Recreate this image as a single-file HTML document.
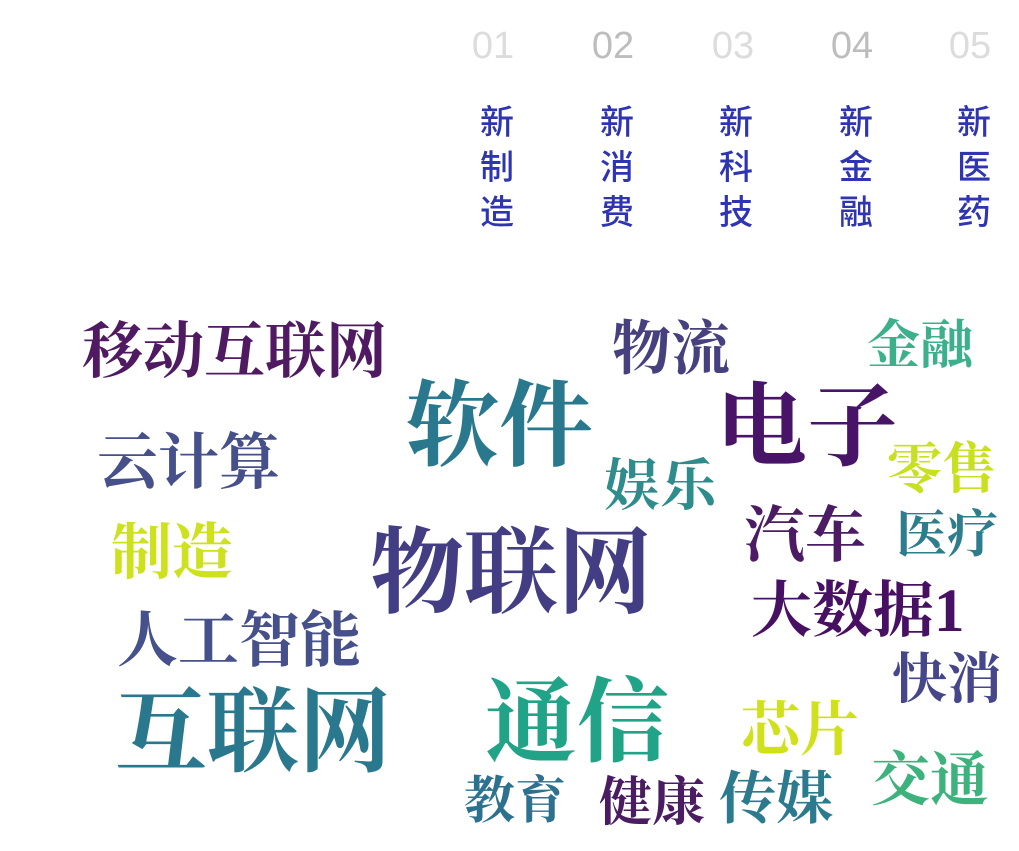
<!DOCTYPE html>
<html><head><meta charset="utf-8"><style>
html,body{margin:0;padding:0;background:#fff;}
body{width:1019px;height:851px;position:relative;overflow:hidden;}
.n{position:absolute;top:24px;font:300 38px "Liberation Sans",sans-serif;line-height:44px;width:60px;text-align:center;}
.v{position:absolute;top:101px;font:500 34px "Liberation Sans","Noto Sans CJK SC",sans-serif;color:#2f35b0;line-height:45px;width:40px;text-align:center;}
.w{position:absolute;font-family:"Liberation Serif","Noto Serif CJK SC",serif;font-weight:bold;line-height:1;white-space:nowrap;}
</style></head><body>
<div class="n" style="left:463px;color:#dcdcdc">01</div>
<div class="n" style="left:583px;color:#bdbdbd">02</div>
<div class="n" style="left:703px;color:#dcdcdc">03</div>
<div class="n" style="left:822px;color:#bdbdbd">04</div>
<div class="n" style="left:940px;color:#dcdcdc">05</div>
<div class="v" style="left:477px">新<br>制<br>造</div>
<div class="v" style="left:597px">新<br>消<br>费</div>
<div class="v" style="left:716px">新<br>科<br>技</div>
<div class="v" style="left:836px">新<br>金<br>融</div>
<div class="v" style="left:954px">新<br>医<br>药</div>

<div class="w" style="left:82px;top:322px;font-size:61px;color:#4f1a61">移动互联网</div>
<div class="w" style="left:612px;top:320px;font-size:59px;color:#46417e">物流</div>
<div class="w" style="left:867px;top:320px;font-size:53px;color:#3bb08a">金融</div>
<div class="w" style="left:405px;top:380px;font-size:94px;color:#2a788e">软件</div>
<div class="w" style="left:716px;top:382px;font-size:91px;color:#481467">电子</div>
<div class="w" style="left:97px;top:433px;font-size:61px;color:#46508a">云计算</div>
<div class="w" style="left:887px;top:442px;font-size:55px;color:#c8e020">零售</div>
<div class="w" style="left:604px;top:459px;font-size:56px;color:#2f8c8c">娱乐</div>
<div class="w" style="left:744px;top:506px;font-size:61px;color:#4b1c63">汽车</div>
<div class="w" style="left:896px;top:511px;font-size:51px;color:#2e7d8e">医疗</div>
<div class="w" style="left:111px;top:523px;font-size:61px;color:#cde11d">制造</div>
<div class="w" style="left:370px;top:527px;font-size:94px;color:#433d84">物联网</div>
<div class="w" style="left:751px;top:581px;font-size:61px;color:#471063">大数据1</div>
<div class="w" style="left:117px;top:611px;font-size:61px;color:#46508a">人工智能</div>
<div class="w" style="left:892px;top:652px;font-size:55px;color:#46468a">快消</div>
<div class="w" style="left:115px;top:687px;font-size:92px;color:#2a788e">互联网</div>
<div class="w" style="left:485px;top:677px;font-size:92px;color:#20a386">通信</div>
<div class="w" style="left:741px;top:701px;font-size:59px;color:#d0e11c">芯片</div>
<div class="w" style="left:871px;top:751px;font-size:59px;color:#3eb27c">交通</div>
<div class="w" style="left:464px;top:777px;font-size:51px;color:#2c728e">教育</div>
<div class="w" style="left:599px;top:777px;font-size:53px;color:#4a1c62">健康</div>
<div class="w" style="left:719px;top:771px;font-size:57px;color:#2b7a8e">传媒</div>
</body></html>
